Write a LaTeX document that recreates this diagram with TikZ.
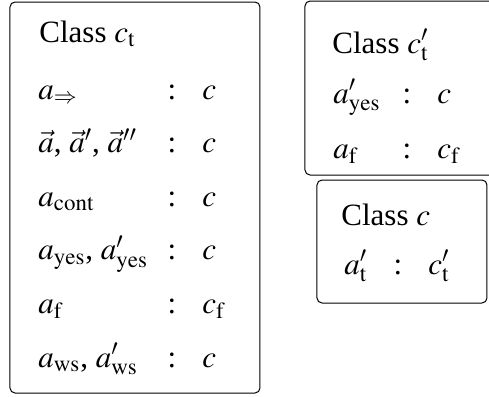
\documentclass[tikz,border=0pt]{standalone}
\usepackage{mathptmx}
\usepackage[no-math]{fontspec}
\setmainfont{Liberation Serif}
\begin{document}
\begin{tikzpicture}[x=0.5pt,y=-0.5pt,
  box/.style={draw, line width=0.5pt, rounded corners=2.5pt, inner sep=0pt},
  txt/.style={anchor=base west, inner sep=0pt, font=\fontsize{15.5}{18}\selectfont},
  col/.style={anchor=base, inner sep=0pt, font=\fontsize{15.5}{18}\selectfont}]
\useasboundingbox (0,0) rectangle (489,397);
% boxes
\node[box, minimum width=125pt, minimum height=195.5pt] (b1) at (135,197.5) {};
\node[box, minimum width=95pt, minimum height=87pt] (b2) at (400,88) {};
\node[box, minimum width=85pt, minimum height=61.5pt] (b3) at (402,241.5) {};
% box 1
\node[txt] (t1) at (39,42) {Class $c_{\mathrm{t}}$};
\foreach \i/\l/\r in {0/{$a_{\Rightarrow}$}/c, 1/{$\vec{a}$, $\vec{a}'$, $\vec{a}''$}/c, 2/{$a_{\mathrm{cont}}$}/c,
  3/{$a_{\mathrm{yes}}$, $a'_{\mathrm{yes}}$}/c, 4/{$a_{\mathrm{f}}$}/{c_{\mathrm{f}}}, 5/{$a_{\mathrm{ws}}$, $a'_{\mathrm{ws}}$}/c}{
  \node[txt] (l\i) at (38,99+53.6*\i) {\l};
  \node[col] (k\i) at (172,99+53.6*\i) {:};
  \node[txt] (r\i) at (202,99+53.6*\i) {$\r$};
}
% box 2
\node[txt] (t2) at (332,53) {Class $c'_{\mathrm{t}}$};
\node[txt] (m1) at (333,103) {$a'_{\mathrm{yes}}$};
\node[col] (n1) at (407,103) {:};
\node[txt] (p1) at (437,103) {$c$};
\node[txt] (m2) at (333,158) {$a_{\mathrm{f}}$};
\node[col] (n2) at (407,158) {:};
\node[txt] (p2) at (437,158) {$c_{\mathrm{f}}$};
% box 3
\node[txt] (t3) at (341,225) {Class $c$};
\node[txt] (q1) at (344,274) {$a'_{\mathrm{t}}$};
\node[col] (s1) at (398,274) {:};
\node[txt] (u1) at (428,274) {$c'_{\mathrm{t}}$};
\end{tikzpicture}
\end{document}
